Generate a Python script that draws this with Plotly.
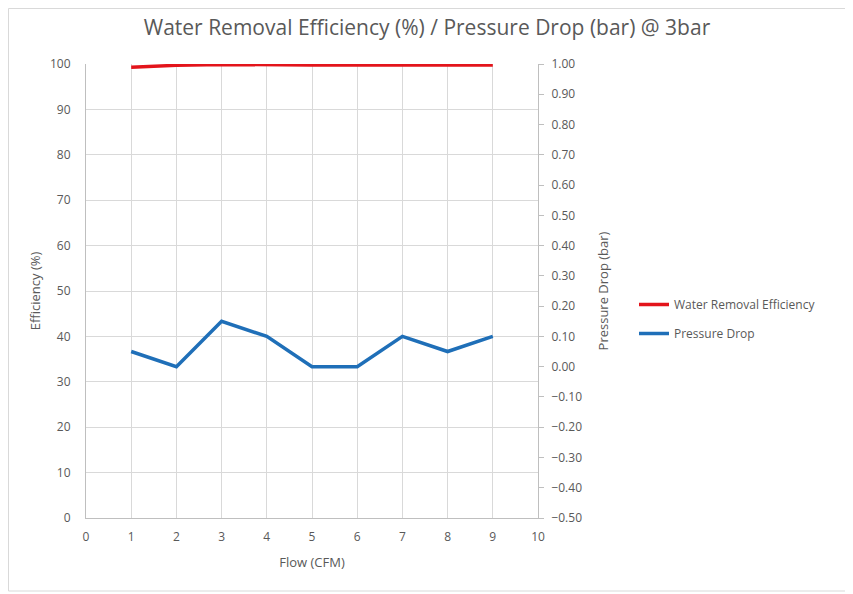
import plotly.graph_objects as go

flow = [1, 2, 3, 4, 5, 6, 7, 8, 9]
efficiency = [99.3, 99.7, 99.9, 99.8, 99.8, 99.8, 99.8, 99.9, 99.8]
pressure_drop = [0.05, 0.00, 0.15, 0.10, 0.00, 0.00, 0.10, 0.05, 0.10]

left_ticks = list(range(0, 101, 10))
right_ticks = [round(-0.5 + 0.1 * i, 2) for i in range(16)]

FONT = "Open Sans, Liberation Sans, sans-serif"
GRAY = "#595959"
GRID = "#d9d9d9"

OFF = 8  # page body margin
fig = go.Figure()
fig.add_trace(go.Scatter(x=flow, y=efficiency, mode="lines", name="Water Removal Efficiency",
                         legendgroup="a",
                         line=dict(color="#e3141b", width=3.5), yaxis="y"))
fig.add_trace(go.Scatter(x=flow, y=pressure_drop, mode="lines", name="Pressure Drop",
                         legendgroup="b",
                         line=dict(color="#1f6fb8", width=3.5), yaxis="y2"))

W, H = 853 - OFF, 594 - OFF
ml, mr, mt, mb = 86 - OFF, 853 - 538, 64 - OFF, 594 - 518
pw, ph = W - ml - mr, H - mt - mb

fig.update_layout(
    width=W, height=H,
    margin=dict(l=ml, r=mr, t=mt, b=mb),
    paper_bgcolor="white", plot_bgcolor="white",
    font=dict(family=FONT, size=12, color=GRAY),
    title=dict(text="Water Removal Efficiency (%) / Pressure Drop (bar) @ 3bar",
               x=(427 - OFF) / W, xanchor="center", xref="container",
               y=1 - (28 - OFF) / H, yanchor="middle", yref="container",
               font=dict(size=21, color=GRAY, family=FONT)),
    xaxis=dict(range=[0, 10], tickvals=list(range(0, 11)), showgrid=True, gridcolor=GRID,
               zeroline=False, showline=True, linecolor="#bfbfbf", ticks="",
               ticklabelstandoff=8,
               title=dict(text="Flow (CFM)", font=dict(size=13, color=GRAY), standoff=13),
               tickfont=dict(size=12, color=GRAY)),
    yaxis=dict(range=[0, 100], tickvals=left_ticks, showgrid=True, gridcolor=GRID,
               zeroline=False, showline=True, linecolor="#bfbfbf", ticks="",
               ticklabelstandoff=12,
               title=dict(text="Efficiency (%)", font=dict(size=13, color=GRAY), standoff=6),
               tickfont=dict(size=12, color=GRAY)),
    yaxis2=dict(range=[-0.5, 1.0], tickvals=right_ticks, tickformat=".2f", overlaying="y",
                side="right", showgrid=False, zeroline=False, showline=True, linecolor="#bfbfbf",
                ticks="outside", ticklen=5, tickcolor="#bfbfbf", ticklabelstandoff=5,
                title=dict(text="Pressure Drop (bar)", font=dict(size=13, color=GRAY), standoff=17),
                tickfont=dict(size=12, color=GRAY)),
    legend=dict(x=(634 - 86) / pw, y=1 - (290 - 64) / ph, xanchor="left", yanchor="top",
                font=dict(size=12, color=GRAY), itemwidth=30, tracegroupgap=10,
                bgcolor="rgba(0,0,0,0)"),
    showlegend=True,
)

fig.add_shape(type="rect", xref="paper", yref="paper",
              x0=(OFF + 0.5 - 86) / pw, x1=(851 - 86) / pw,
              y0=1 - (591 - 64) / ph, y1=1 - (OFF + 0.5 - 64) / ph,
              line=dict(color="#d9d9d9", width=1), fillcolor="rgba(0,0,0,0)", layer="below")

fig.write_html("out.html")
